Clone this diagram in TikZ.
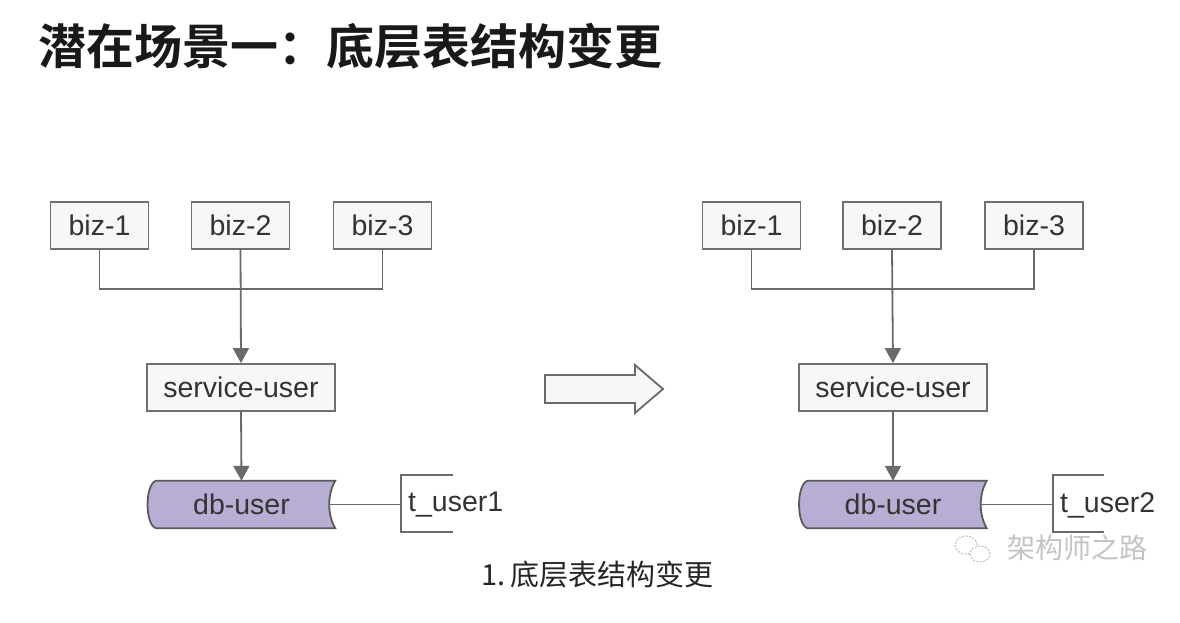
\documentclass[tikz,border=0pt]{standalone}
\usepackage{fontspec}
\setmainfont{Liberation Sans}
\newfontfamily\cjk{Noto Sans CJK SC}
\newfontfamily\cjkbold{Noto Sans CJK SC Bold}
\usetikzlibrary{arrows.meta,calc}
\definecolor{linegray}{HTML}{6A6A6A}
\definecolor{boxline}{HTML}{707070}
\definecolor{boxfill}{HTML}{F7F7F7}
\definecolor{txt}{HTML}{333333}
\definecolor{dbfill}{HTML}{B8AED4}
\definecolor{dbline}{HTML}{5A5A5A}
\definecolor{wm}{HTML}{C4C4C4}
\tikzset{
  boxnode/.style={draw=boxline, fill=boxfill, line width=1.8pt, inner sep=0pt,
    minimum height=47pt, text=txt, font=\fontsize{28.5}{30}\selectfont},
  biz/.style={boxnode, minimum width=98pt},
  svc/.style={boxnode, minimum width=188pt},
  dbnode/.style={inner sep=0pt, minimum width=187pt, minimum height=47pt,
    text=txt, font=\fontsize{28.5}{30}\selectfont},
  link/.style={draw=linegray, line width=1.8pt},
  flow/.style={link, -{Triangle[width=16pt,length=15pt]}},
  tbl/.style={anchor=west, inner sep=0pt, text=txt, font=\fontsize{28.5}{30}\selectfont},
  dbshape/.style={fill=dbfill, draw=dbline, line width=1.8pt}
}
% storage shape drawn around a named node
\newcommand\dbdraw[1]{%
  \draw[dbshape]
    ($(#1.north west)+(8,0)$) -- ($(#1.north east)$)
    .. controls ($(#1.east)+(-8,-10)$) and ($(#1.east)+(-8,10)$) .. ($(#1.south east)$)
    -- ($(#1.south west)+(8,0)$)
    .. controls ($(#1.south west)+(-3,-4)$) and ($(#1.north west)+(-3,4)$) .. cycle;}
\begin{document}
\begin{tikzpicture}[x=1pt,y=-1pt]
\useasboundingbox[fill=white] (0,0) rectangle (1180,622);

% title
\node[anchor=west, inner sep=0pt, text=black!90, font=\cjkbold\fontsize{48}{50}\selectfont]
  (title) at (38,46) {潜在场景一：底层表结构变更};

% ---- left panel ----
\node[biz] (lb1) at (99.5,225.5) {biz-1};
\node[biz] (lb2) at (240.5,225.5) {biz-2};
\node[biz] (lb3) at (382.5,225.5) {biz-3};
\node[svc] (lsu) at (241,387.5) {service-user};
\node[dbnode] (ldb) at (241.5,504.5) {};
\dbdraw{ldb}
\node[dbnode] at (ldb) {db-user};
\coordinate (lj) at (241,289);
\draw[link] (lb1.south) |- (lj);
\draw[link] (lb3.south) |- (lj);
\draw[flow] (lb2.south) -- (lsu.north);
\draw[flow] (lsu.south) -- (ldb.north);
\coordinate (lt) at (401,504.5);
\draw[link] ($(ldb.east)+(-6,0)$) -- (lt);
\draw[link] (453,475) -- (401,475) -- (401,532) -- (453,532);
\node[tbl] (lt1) at (408,505) {t\_user1};

% ---- transition arrow ----
\draw[draw=linegray, fill=boxfill, line width=1.8pt, line join=miter]
  (545,375) -- (635,375) -- (635,365) -- (663,389) -- (635,413) -- (635,403) -- (545,403) -- cycle;

% ---- right panel ----
\node[biz] (rb1) at (751.5,225.5) {biz-1};
\node[biz] (rb2) at (892,225.5) {biz-2};
\node[biz] (rb3) at (1034,225.5) {biz-3};
\node[svc] (rsu) at (893,387.5) {service-user};
\node[dbnode] (rdb) at (893,504.5) {};
\dbdraw{rdb}
\node[dbnode] at (rdb) {db-user};
\coordinate (rj) at (893,289);
\draw[link] (rb1.south) |- (rj);
\draw[link] (rb3.south) |- (rj);
\draw[flow] (rb2.south) -- (rsu.north);
\draw[flow] (rsu.south) -- (rdb.north);
\coordinate (rt) at (1053,504.5);
\draw[link] ($(rdb.east)+(-6,0)$) -- (rt);
\draw[link] (1104,475) -- (1053,475) -- (1053,532) -- (1104,532);
\node[tbl] (rt2) at (1060,505) {t\_user2};

% caption
\node[anchor=west, inner sep=0pt, text=black!85, font=\cjk\fontsize{29}{32}\selectfont]
  (cap) at (481,574) {1.\,底层表结构变更};

% account mark
\draw[wm, line width=1.2pt, dash pattern=on 2pt off 1.5pt] (966,545) ellipse (11pt and 9pt);
\draw[wm, line width=1.2pt, dash pattern=on 2pt off 1.5pt, fill=white] (980,554) ellipse (10pt and 8pt);
\node[anchor=west, inner sep=0pt, text=wm, font=\cjk\fontsize{28}{30}\selectfont]
  (mark) at (1007,548) {架构师之路};
\end{tikzpicture}
\end{document}
